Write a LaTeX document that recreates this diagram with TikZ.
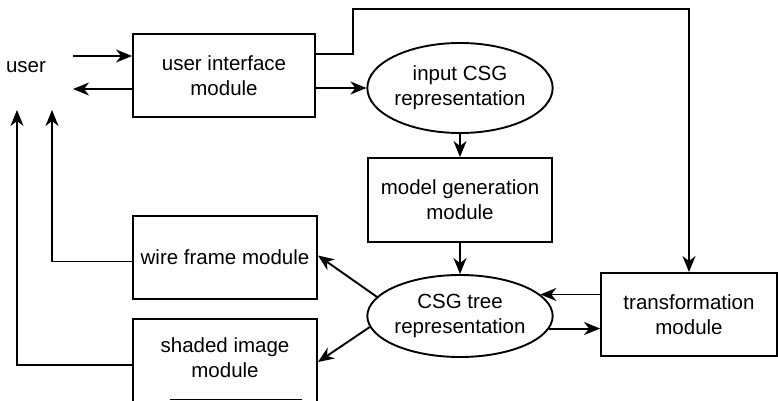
\documentclass[tikz,border=0pt]{standalone}
\usepackage{fontspec}
\setmainfont{Liberation Sans}
\usetikzlibrary{arrows.meta,shapes.geometric,calc}

\tikzset{
  line/.style={line width=1.9pt, line join=miter},
  arr/.style={line, -{Stealth[length=16pt,width=13pt,inset=5pt]}},
  modbox/.style={draw, line width=1.9pt, rectangle, inner sep=0pt, align=center,
    font=\fontsize{20.5}{25}\selectfont},
  repr/.style={draw, line width=1.9pt, ellipse, inner sep=0pt, align=center,
    font=\fontsize{20.5}{25}\selectfont},
  lbl/.style={inner sep=0pt, font=\fontsize{20.5}{25}\selectfont}
}

\begin{document}
\begin{tikzpicture}[x=1pt,y=-1pt]
  \useasboundingbox (0,0) rectangle (778,401);

  % outside actor
  \node[lbl] (user) at (26,67) {user};
  \coordinate (uin) at (73,56);
  \coordinate (uout) at (73,89);
  \coordinate (wfup) at (52,110);
  \coordinate (shup) at (17,110);
  \coordinate (bend) at (353,9);

  % modules and representations
  \node[modbox, minimum width=182pt, minimum height=83pt] (ui) at (224,75.5)
    {user interface\\module};
  \node[repr, minimum width=184pt, minimum height=90pt] (inp) at (460,88)
    {input CSG\\representation};
  \node[modbox, minimum width=184pt, minimum height=84pt] (mg) at (460,200)
    {model generation\\module};
  \node[repr, minimum width=185pt, minimum height=82pt] (csg) at (460,316)
    {CSG tree\\representation};
  \node[modbox, minimum width=176pt, minimum height=83pt] (tr) at (689,314.5)
    {transformation\\module};
  \node[modbox, minimum width=184pt, minimum height=83pt] (wf) at (225,257.5)
    {wire frame module};
  % lower box runs past the bottom of the page
  \node[modbox, minimum width=184pt, minimum height=90pt] (sh) at (225,364)
    {};
  \node[lbl, align=center] (shtext) at (225,358) {shaded image\\module};
  \coordinate (frA) at (170,399.5);
  \coordinate (frB) at (302,399.5);
  \draw[line] (frA) -- (frB);

  % connectors
  \draw[arr] (uin) -- (ui.west |- uin);
  \draw[arr] (ui.west |- uout) -- (uout);
  \draw[arr] (ui.east |- inp.west) -- (inp.west);
  \draw[arr] ([yshift=21.5pt]ui.east) -| (bend) -| (tr.north);
  \draw[arr] (inp.south) -- (mg.north);
  \draw[arr] (mg.south) -- (csg.north);
  \draw[arr] (tr.west |- csg.15) -- (csg.15);
  \draw[arr] (csg.-8.5) -- (tr.west |- csg.-8.5);
  \draw[arr] (csg.167) -- ([yshift=2pt]wf.east);
  \draw[arr] (csg.187) -- ([yshift=2pt]sh.east);
  \draw[arr] ([yshift=-4pt]wf.west) -| (wfup);
  \draw[arr] ([yshift=-1pt]sh.west) -| (shup);
\end{tikzpicture}
\end{document}
